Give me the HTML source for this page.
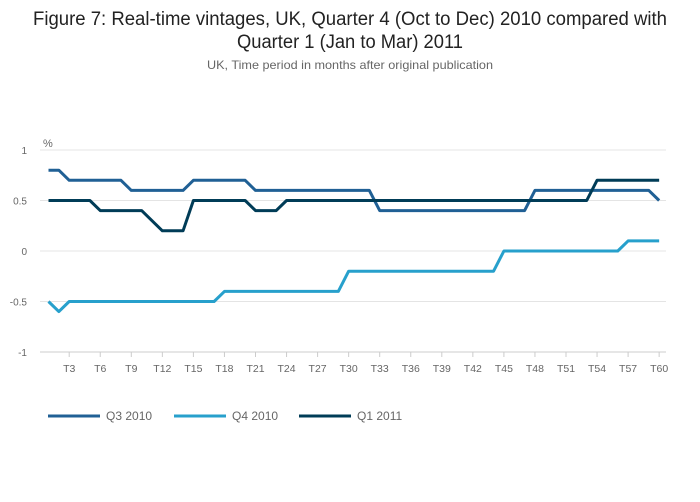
<!DOCTYPE html>
<html><head><meta charset="utf-8"><style>
body{margin:0;background:#fff;}
svg{display:block;font-family:"Liberation Sans",sans-serif;}
</style></head><body>
<svg id="chart" width="700" height="502">
<text x="350" y="25" text-anchor="middle" font-size="19" fill="#222" textLength="634" lengthAdjust="spacingAndGlyphs">Figure 7: Real-time vintages, UK, Quarter 4 (Oct to Dec) 2010 compared with</text>
<text x="350" y="48" text-anchor="middle" font-size="19" fill="#222" textLength="226" lengthAdjust="spacingAndGlyphs">Quarter 1 (Jan to Mar) 2011</text>
<text x="350" y="69" text-anchor="middle" font-size="12" fill="#666" textLength="286" lengthAdjust="spacingAndGlyphs">UK, Time period in months after original publication</text>
<text x="43" y="147" font-size="11" fill="#666">%</text>
<g id="grid"></g><g id="xticks"></g><g id="lines"></g><g id="legend"></g>
</svg>
<script>
const categories = Array.from({length:60},(_,i)=>'T'+(i+1));
const yTicks = [1,0.5,0,-0.5,-1];
const yTickLabels = ['1','0.5','0','-0.5','-1'];
const xTickLabels = ['T3','T6','T9','T12','T15','T18','T21','T24','T27','T30','T33','T36','T39','T42','T45','T48','T51','T54','T57','T60'];
const seriesNames = ['Q3 2010','Q4 2010','Q1 2011'];
const q3_2010 = [0.8,0.8,0.7,0.7,0.7,0.7,0.7,0.7,0.6,0.6,0.6,0.6,0.6,0.6,0.7,0.7,0.7,0.7,0.7,0.7,
0.6,0.6,0.6,0.6,0.6,0.6,0.6,0.6,0.6,0.6,0.6,0.6,0.4,0.4,0.4,0.4,0.4,0.4,0.4,0.4,
0.4,0.4,0.4,0.4,0.4,0.4,0.4,0.6,0.6,0.6,0.6,0.6,0.6,0.6,0.6,0.6,0.6,0.6,0.6,0.5];
const q4_2010 = [-0.5,-0.6,-0.5,-0.5,-0.5,-0.5,-0.5,-0.5,-0.5,-0.5,-0.5,-0.5,-0.5,-0.5,-0.5,-0.5,-0.5,-0.4,-0.4,-0.4,
-0.4,-0.4,-0.4,-0.4,-0.4,-0.4,-0.4,-0.4,-0.4,-0.2,-0.2,-0.2,-0.2,-0.2,-0.2,-0.2,-0.2,-0.2,-0.2,-0.2,
-0.2,-0.2,-0.2,-0.2,0,0,0,0,0,0,0,0,0,0,0,0,0.1,0.1,0.1,0.1];
const q1_2011 = [0.5,0.5,0.5,0.5,0.5,0.4,0.4,0.4,0.4,0.4,0.3,0.2,0.2,0.2,0.5,0.5,0.5,0.5,0.5,0.5,
0.4,0.4,0.4,0.5,0.5,0.5,0.5,0.5,0.5,0.5,0.5,0.5,0.5,0.5,0.5,0.5,0.5,0.5,0.5,0.5,
0.5,0.5,0.5,0.5,0.5,0.5,0.5,0.5,0.5,0.5,0.5,0.5,0.5,0.7,0.7,0.7,0.7,0.7,0.7,0.7];

const NS='http://www.w3.org/2000/svg';
const x = i => 48.5 + i*10.35;
const y = v => 251 - v*101;
function mk(tag,attrs,parent){const e=document.createElementNS(NS,tag);for(const k in attrs)e.setAttribute(k,attrs[k]);parent.appendChild(e);return e;}
const grid=document.getElementById('grid');
yTicks.forEach((v,k)=>{
  const l=mk('line',{x1:40,x2:666,y1:y(v),y2:y(v),stroke:v===-1?'#ccc':'#e4e4e4','stroke-width':1},grid);
  
  
  const t=mk('text',{x:27,y:y(v)+4,'font-size':10,fill:'#666','text-anchor':'end'},grid);
  t.textContent=yTickLabels[k];
  
  
});
const xt=document.getElementById('xticks');
xTickLabels.forEach(lbl=>{
  const i=categories.indexOf(lbl);
  const tk=mk('line',{x1:x(i),x2:x(i),y1:352,y2:357,stroke:'#ccc'},xt);
  
  
  const t=mk('text',{x:x(i),y:372,'font-size':10.5,fill:'#666','text-anchor':'middle'},xt);
  t.textContent=lbl;
  
  
});
const colors=['#206095','#27a0cc','#003c57'];
const data=[q3_2010,q4_2010,q1_2011];
const lines=document.getElementById('lines');
data.forEach((s,k)=>{
  const p=mk('polyline',{points:s.map((v,i)=>x(i)+','+y(v)).join(' '),fill:'none',stroke:colors[k],'stroke-width':3,'stroke-linejoin':'round'},lines);
  
  
});
const lg=document.getElementById('legend');
const lx=[48,174,299];
seriesNames.forEach((n,k)=>{
  const g=mk('g',{},lg);
  
  
  mk('line',{x1:lx[k],x2:lx[k]+52,y1:416,y2:416,stroke:colors[k],'stroke-width':3},g);
  const t=mk('text',{x:lx[k]+58,y:420,'font-size':12,fill:'#666'},g);
  t.textContent=n;
});
</script>
</body></html>
